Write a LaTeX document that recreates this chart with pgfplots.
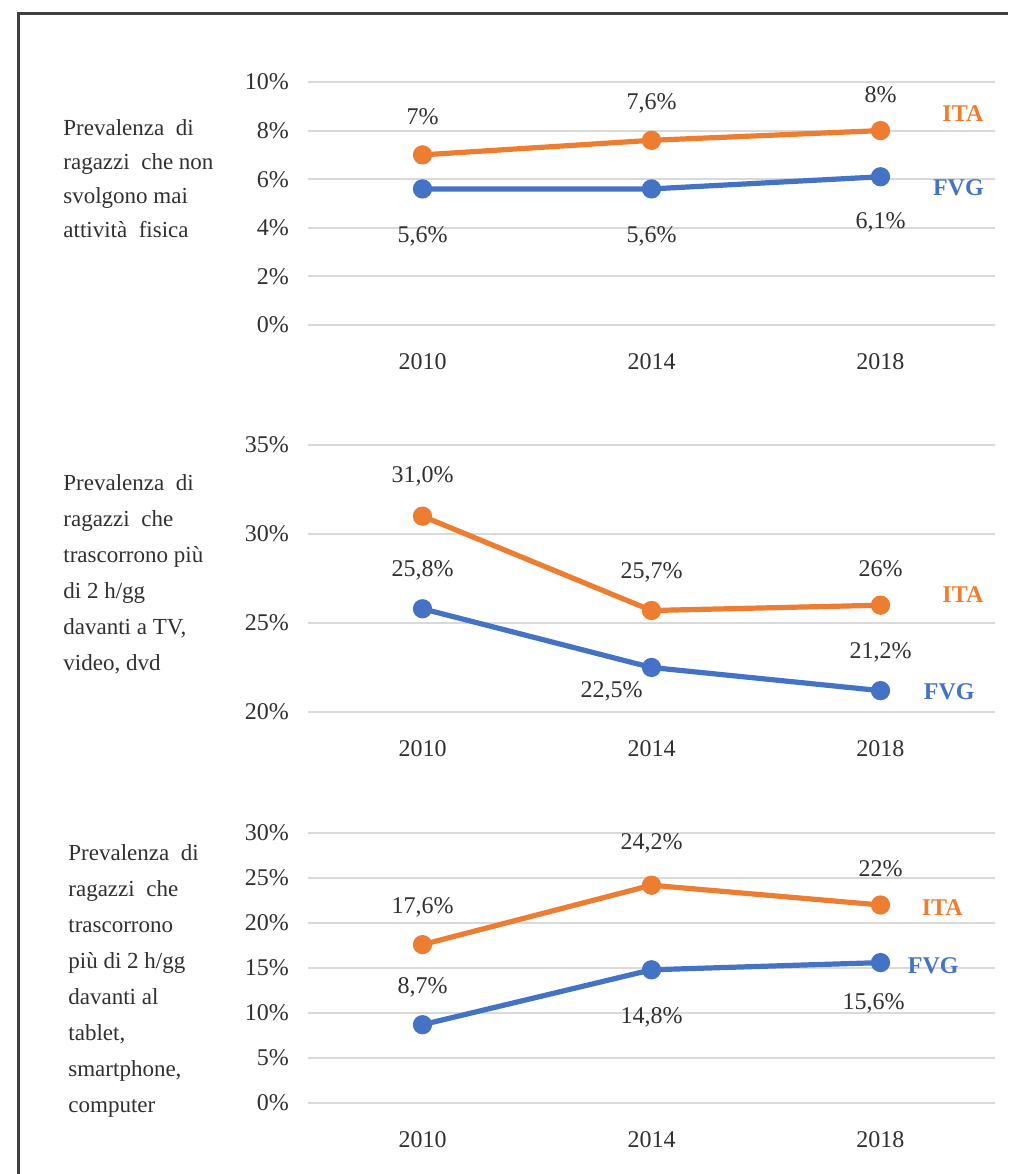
\documentclass[border=0pt]{standalone}
\usepackage{pgfplots}
\pgfplotsset{compat=1.18}
\usepackage{fontspec}
\setmainfont{Liberation Serif}
\definecolor{ita}{HTML}{ED7D31}
\definecolor{fvg}{HTML}{4472C4}
\definecolor{gridc}{HTML}{D9D9D9}
\definecolor{txt}{HTML}{303030}
\pgfplotsset{panel/.style={
  scale only axis, width=343.5pt, xmin=-0.5, xmax=2.5,
  xtick={0,1,2}, xticklabels={2010,2014,2018},
  axis line style={draw=none}, major tick length=0pt, tick style={draw=none},
  ymajorgrids, grid style={gridc, line width=1pt},
  xticklabel style={anchor=center, yshift=-18.5pt, font=\fontsize{12}{14}\selectfont, text=txt},
  yticklabel style={font=\fontsize{12}{14}\selectfont, text=txt, xshift=-6pt},
  /pgf/number format/assume math mode=true,
  yticklabel={\pgfmathprintnumber[fixed,precision=0]{\tick}\%},
  clip=false,
  every axis plot/.append style={line width=2.6pt, mark=*, mark size=3.5pt},
}}
\tikzset{lab/.style={font=\fontsize{12}{14}\selectfont, text=txt, inner sep=0pt},
ser/.style={font=\fontsize{12}{14}\selectfont\bfseries, inner sep=0pt}}
\begin{document}
\begin{tikzpicture}
\path[use as bounding box] (0,0) rectangle (504pt,587pt);
\draw[line width=1.5pt, black!75] (9pt,0) -- (9pt,580pt) -- (504pt,580pt);

% left texts
\node[anchor=north west, align=left, inner sep=0pt, font=\fontsize{11.5}{17}\selectfont, text=txt] at (31.5pt,527.5pt)
  {Prevalenza\ \ di\\ragazzi\ \ che non\\svolgono mai\\attività\ \ fisica};
\node[anchor=north west, align=left, inner sep=0pt, font=\fontsize{11.5}{18}\selectfont, text=txt] at (31.5pt,350pt)
  {Prevalenza\ \ di\\ragazzi\ \ che\\trascorrono più\\di 2 h/gg\\davanti a TV,\\video, dvd};
\node[anchor=north west, align=left, inner sep=0pt, font=\fontsize{11.5}{18}\selectfont, text=txt] at (34pt,165pt)
  {Prevalenza\ \ di\\ragazzi\ \ che\\trascorrono\\più di 2 h/gg\\davanti al\\tablet,\\smartphone,\\computer};

% Panel 1
\begin{axis}[panel, at={(154pt,424.5pt)}, anchor=south west, height=121.5pt,
  ymin=0, ymax=10, ytick={0,2,4,6,8,10}]
\addplot[ita, mark options={fill=ita}] coordinates {(0,7) (1,7.6) (2,8)};
\addplot[fvg, mark options={fill=fvg}] coordinates {(0,5.6) (1,5.6) (2,6.1)};
\node[lab] at (axis cs:0,8.56) {7\%};
\node[lab] at (axis cs:1,9.14) {7,6\%};
\node[lab] at (axis cs:2,9.47) {8\%};
\node[lab] at (axis cs:0,3.66) {5,6\%};
\node[lab] at (axis cs:1,3.66) {5,6\%};
\node[lab] at (axis cs:2,4.24) {6,1\%};
\node[ser, text=ita] at (axis cs:2.36,8.68) {ITA};
\node[ser, text=fvg] at (axis cs:2.34,5.64) {FVG};
\end{axis}

% Panel 2
\begin{axis}[panel, at={(154pt,231pt)}, anchor=south west, height=133.5pt,
  ymin=20, ymax=35, ytick={20,25,30,35}]
\addplot[ita, mark options={fill=ita}] coordinates {(0,31.0) (1,25.7) (2,26)};
\addplot[fvg, mark options={fill=fvg}] coordinates {(0,25.8) (1,22.5) (2,21.2)};
\node[lab] at (axis cs:0,33.26) {31,0\%};
\node[lab] at (axis cs:1,27.87) {25,7\%};
\node[lab] at (axis cs:2,28.03) {26\%};
\node[lab] at (axis cs:0,27.98) {25,8\%};
\node[lab] at (axis cs:0.826,21.18) {22,5\%};
\node[lab] at (axis cs:2,23.37) {21,2\%};
\node[ser, text=ita] at (axis cs:2.36,26.57) {ITA};
\node[ser, text=fvg] at (axis cs:2.30,21.12) {FVG};
\end{axis}

% Panel 3
\begin{axis}[panel, at={(154pt,35.5pt)}, anchor=south west, height=135pt,
  ymin=0, ymax=30, ytick={0,5,10,15,20,25,30}]
\addplot[ita, mark options={fill=ita}] coordinates {(0,17.6) (1,24.2) (2,22)};
\addplot[fvg, mark options={fill=fvg}] coordinates {(0,8.7) (1,14.8) (2,15.6)};
\node[lab] at (axis cs:0,21.78) {17,6\%};
\node[lab] at (axis cs:1,28.9) {24,2\%};
\node[lab] at (axis cs:2,26.0) {22\%};
\node[lab] at (axis cs:0,12.89) {8,7\%};
\node[lab] at (axis cs:1,9.56) {14,8\%};
\node[lab] at (axis cs:1.97,11.1) {15,6\%};
\node[ser, text=ita] at (axis cs:2.27,21.67) {ITA};
\node[ser, text=fvg] at (axis cs:2.23,15.2) {FVG};
\end{axis}
\end{tikzpicture}
\end{document}
